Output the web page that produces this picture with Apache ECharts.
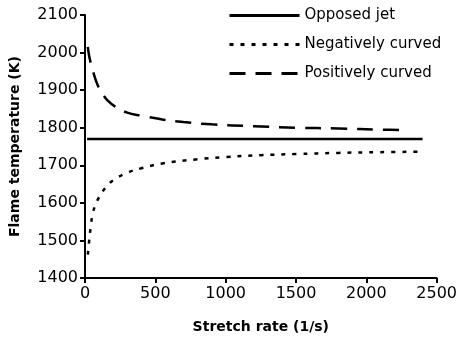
<!DOCTYPE html>
<html>
<head>
<meta charset="utf-8">
<script src="https://cdn.jsdelivr.net/npm/echarts@6/dist/echarts.min.js"></script>
<style>
    html, body { margin: 0; padding: 0; background: #fff; }
    #chart { width: 460px; height: 340px; }
</style>
</head>
<body>
<div id="chart"></div>
<script>
// 数据：拉伸率 (1/s) 与火焰温度 (K)
const seriesNames = ["Opposed jet", "Negatively curved", "Positively curved"];
const opposedJet = [[15, 1770], [2400, 1770]];
const negativelyCurved = [
    [20, 1462], [30, 1500], [40, 1535], [55, 1572], [75, 1595], [100, 1615],
    [150, 1642], [200, 1660], [300, 1680], [400, 1692], [550, 1705], [800, 1716],
    [1000, 1722], [1250, 1727], [1500, 1730], [1800, 1733], [2100, 1735], [2400, 1736]
];
const positivelyCurved = [
    [20, 2015], [30, 1990], [50, 1960], [85, 1918], [120, 1893], [160, 1873],
    [220, 1855], [300, 1840], [400, 1832], [550, 1822], [700, 1815], [900, 1809],
    [1200, 1804], [1500, 1800], [1800, 1798], [2100, 1795], [2300, 1793]
];
const xTicks = { min: 0, max: 2500, interval: 500 };
const yTicks = { min: 1400, max: 2100, interval: 100 };

const font = "DejaVu Sans, sans-serif";
const chart = echarts.init(document.getElementById("chart"));

// 坐标轴公共样式
const axisCommon = {
    axisLine: { show: true, onZero: false, lineStyle: { color: "#000", width: 2 } },
    axisTick: { show: true, inside: false, length: 5, lineStyle: { color: "#000", width: 2 } },
    splitLine: { show: false },
    axisLabel: { color: "#000", fontSize: 16, fontFamily: font, formatter: v => String(v) },
    nameTextStyle: { color: "#000", fontSize: 14, fontWeight: "bold", fontFamily: font }
};

function lineSeries(name, data, type) {
    return {
        name,
        type: "line",
        data,
        smooth: 0.4,
        symbol: "none",
        itemStyle: { color: "#000" },
        lineStyle: { color: "#000", width: 2.5, type }
    };
}

chart.setOption({
    animation: false,
    grid: { left: 85, right: 21, top: 15, bottom: 62 },
    legend: {
        orient: "vertical",
        left: 228,
        top: 8,
        padding: 0,
        itemWidth: 70,
        itemHeight: 14,
        itemGap: 14,
        itemStyle: { opacity: 0 },
        lineStyle: { width: 3 },
        textStyle: { color: "#000", fontSize: 15, fontFamily: font },
        data: seriesNames
    },
    xAxis: {
        ...axisCommon,
        type: "value",
        ...xTicks,
        name: "Stretch rate (1/s)",
        nameLocation: "middle",
        nameGap: 42,
        axisLabel: { ...axisCommon.axisLabel, margin: 8 }
    },
    yAxis: {
        ...axisCommon,
        type: "value",
        ...yTicks,
        name: "Flame temperature (K)",
        nameLocation: "middle",
        nameGap: 63,
        axisLabel: { ...axisCommon.axisLabel, margin: 7 }
    },
    series: [
        lineSeries(seriesNames[0], opposedJet, "solid"),
        lineSeries(seriesNames[1], negativelyCurved, [4, 7]),
        lineSeries(seriesNames[2], positivelyCurved, [16, 10])
    ]
});
</script>
</body>
</html>
